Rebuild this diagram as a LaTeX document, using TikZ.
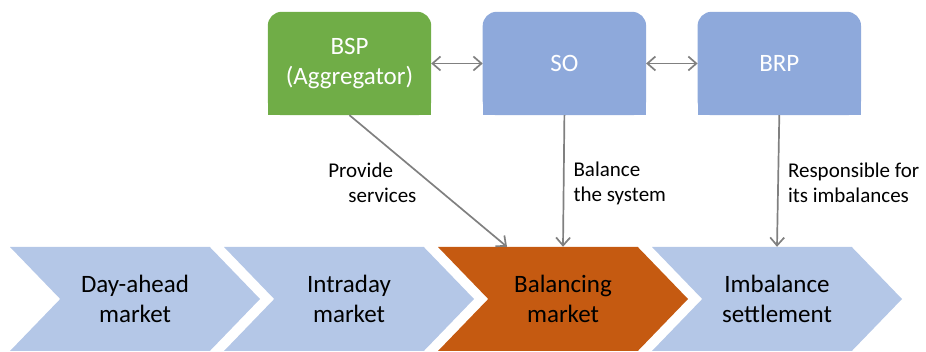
\documentclass[tikz,border=0pt]{standalone}
\usepackage{fontspec}
\setmainfont{Carlito}
\usetikzlibrary{
  positioning,
  arrows.meta,
  backgrounds,
  calc,
  shapes.symbols
}
\definecolor{bspGreen}{RGB}{112,173,71}
\definecolor{partyBlue}{RGB}{142,169,219}
\definecolor{stageBlue}{RGB}{180,199,231}
\definecolor{stageOrange}{RGB}{197,90,17}
\definecolor{linkGray}{RGB}{128,128,128}

\begin{document}
\begin{tikzpicture}[
    x=1pt,y=1pt,
    font=\fontsize{25}{30}\selectfont,
    >={Straight Barb[length=8pt,width=14pt]},
    party/.style={
      minimum width=163pt,
      minimum height=103pt,
      inner sep=0pt,
      text=white,
      align=center
    },
    stage/.style={
      signal,
      signal to=east,
      signal from=west,
      signal pointer angle=92,
      minimum width=250pt,
      minimum height=104pt,
      inner sep=0pt,
      fill=stageBlue,
      align=center
    },
    role/.style={
      font=\fontsize{21}{25}\selectfont,
      inner sep=2pt,
      align=left
    },
    link/.style={
      draw=linkGray,
      line width=1.7pt
    }
  ]
  \newcommand{\hSep}{51.5pt}
  \newcommand{\stagePitch}{214pt}
  \useasboundingbox (0,0) rectangle (926,352);

  % Actors
  \node[party] (bsp) at (349.5,288.5) {BSP\\(Aggregator)};
  \node[party, right=\hSep of bsp] (so) {SO};
  \node[party, right=\hSep of so] (brp) {BRP};

  \begin{scope}[on background layer]
    \foreach \b/\c in {bsp/bspGreen, so/partyBlue, brp/partyBlue}{
      \fill[\c, rounded corners=14pt] (\b.south west) rectangle (\b.north east);
      \fill[\c] (\b.south west) rectangle (\b.east);
    }
  \end{scope}

  % Market stages
  \node[stage] (dayahead) at (135,53) {Day-ahead\\market};
  \node[stage] (intraday) at ([xshift=\stagePitch]dayahead.center) {Intraday\\market};
  \node[stage, fill=stageOrange] (balancing) at ([xshift=\stagePitch]intraday.center) {Balancing\\market};
  \node[stage] (imbalance) at ([xshift=\stagePitch]balancing.center) {Imbalance\\settlement};

  % Actor connections
  \draw[link,<->] (bsp.east) -- (so.west);
  \draw[link,<->] (so.east) -- (brp.west);

  \draw[link,->] (bsp.south) -- node[role, left=9pt, yshift=-2pt] {Provide\\\hspace*{20pt}services} ($(balancing.north)-(56,0)$);
  \draw[link,->] (so.south) -- node[role, right=7pt, yshift=-2pt] {Balance\\the system} (balancing.north);
  \draw[link,->] (brp.south) -- node[role, right=7pt, yshift=-2pt] {Responsible for\\its imbalances} (imbalance.north);
\end{tikzpicture}
\end{document}
